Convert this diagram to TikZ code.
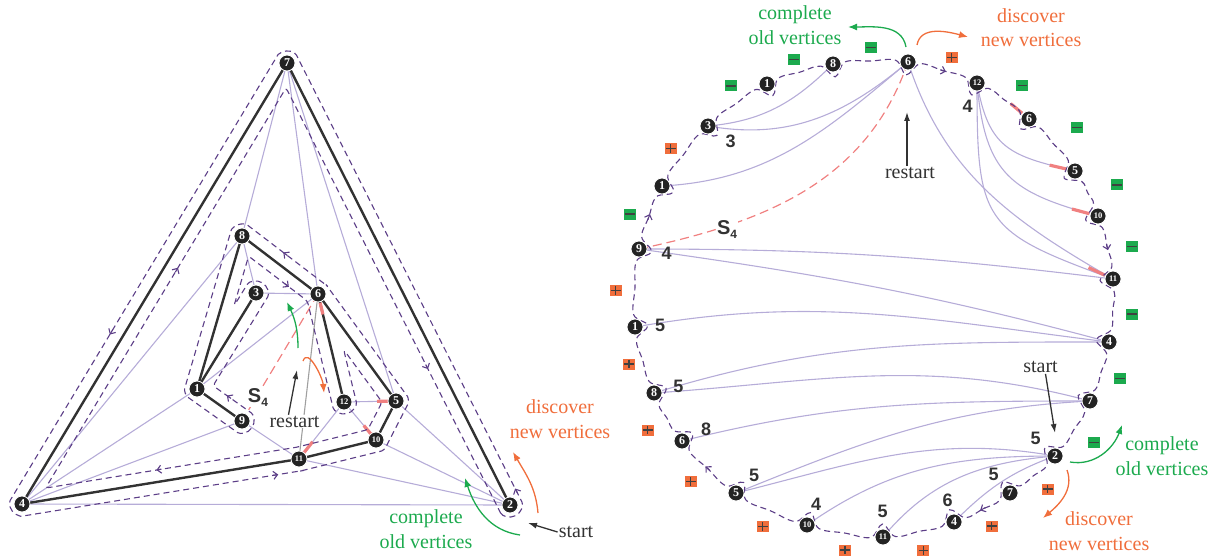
\documentclass[tikz,border=0pt]{standalone}
\usepackage{fontspec}
\setmainfont{Liberation Serif}
\setsansfont{Liberation Sans}
\usetikzlibrary{calc,arrows.meta}
\definecolor{edgec}{RGB}{182,172,216}
\definecolor{contc}{RGB}{92,62,135}
\definecolor{treec}{RGB}{50,50,50}
\definecolor{greenc}{RGB}{28,170,78}
\definecolor{orangec}{RGB}{240,110,60}
\definecolor{redc}{RGB}{240,128,128}
\definecolor{vfill}{RGB}{35,35,35}
\begin{document}
\begin{tikzpicture}[x=1pt,y=1pt,
  ledge/.style={draw=edgec, line width=1.1pt},
  gedge/.style={draw=gray!75, line width=1.1pt},
  tedge/.style={draw=treec, line width=2.4pt},
  rdash/.style={draw=redc, line width=1.2pt, dash pattern=on 9pt off 5pt},
  rseg/.style={draw=redc, line width=3.2pt},
  contour/.style={draw=contc, line width=1.1pt, dash pattern=on 6pt off 4pt},
  carrow/.style={draw=contc, line width=1.1pt, -{Straight Barb[length=4pt,width=8pt]}},
  garrow/.style={draw=greenc, line width=1.3pt, -{Latex[length=9pt,width=7pt]}},
  oarrow/.style={draw=orangec, line width=1.3pt, -{Latex[length=9pt,width=7pt]}},
  barrow/.style={draw=treec, line width=1.3pt, -{Latex[length=9pt,width=6pt]}},
  vtx/.style={circle, fill=vfill, draw=white, line width=0.8pt, minimum size=16pt, inner sep=0pt, text=white, font=\bfseries\fontsize{12}{12}\selectfont},
  vtxs/.style={vtx, font=\bfseries\fontsize{8.5}{8.5}\selectfont},
  ann/.style={font=\fontsize{20}{24.5}\selectfont, align=center, inner sep=1pt},
  dlab/.style={font=\sffamily\bfseries\fontsize{18}{18}\selectfont, text=treec, inner sep=0pt},
  slab/.style={font=\sffamily\bfseries\fontsize{20}{20}\selectfont, text=treec, inner sep=1pt},
  sq/.style={rectangle, minimum width=12pt, minimum height=11pt, inner sep=0pt},
  msq/.style={sq, fill=greenc, path picture={\draw[line width=1.3pt, black!75] ([xshift=1.2pt]path picture bounding box.west) -- ([xshift=-1.2pt]path picture bounding box.east);}},
  psq/.style={sq, fill=orangec, path picture={\draw[line width=1.3pt, black!75] ([xshift=1.2pt]path picture bounding box.west) -- ([xshift=-1.2pt]path picture bounding box.east); \draw[line width=1.3pt, black!75] ([yshift=-1.2pt]path picture bounding box.north) -- ([yshift=1.2pt]path picture bounding box.south);}}
]
\useasboundingbox (0,0) rectangle (1217,-556);

% ---------------- left graph: vertex positions
\coordinate (L7) at (287,-63);
\coordinate (L4) at (22,-504);
\coordinate (L2) at (510,-505);
\coordinate (L8) at (242,-236);
\coordinate (L3) at (256,-293);
\coordinate (L6) at (318,-294);
\coordinate (L1) at (197,-389);
\coordinate (L9) at (242,-421);
\coordinate (L12) at (344,-402);
\coordinate (L5) at (396,-401);
\coordinate (L10) at (376,-440);
\coordinate (L11) at (299,-459);

% light edges
\foreach \a/\b in {L7/L8, L7/L6, L7/L5, L4/L8, L4/L1, L4/L9, L4/L2, L3/L8, L3/L6, L1/L6, L9/L11, L12/L11, L12/L5, L12/L10, L5/L2, L10/L2, L11/L2}
  \draw[ledge] (\a) -- (\b);
\draw[gedge] (L6) -- (L11);
% tree edges
\foreach \a/\b in {L7/L4, L7/L2, L4/L11, L11/L10, L10/L5, L5/L6, L6/L12, L6/L8, L8/L1, L1/L3, L1/L9}
  \draw[tedge] (\a) -- (\b);
% red
\draw[rdash] (L6) -- (L9);
\draw[rseg] ($(L6)!9pt!(L12)$) -- ($(L6)!21pt!(L12)$);
\draw[rseg] ($(L5)!8pt!(L12)$) -- ($(L5)!19pt!(L12)$);
\draw[rseg] ($(L10)!8pt!(L12)$) -- ($(L10)!19pt!(L12)$);
\draw[rseg] ($(L11)!8pt!(L12)$) -- ($(L11)!22pt!(L12)$);

% contour of the tree
\draw[contour, rounded corners=3pt]
 ($(L2)+(206.8:12)$) arc[start angle=206.8, end angle=386.8, radius=12]
 -- ($(L7)+(26.8:12)$) arc[start angle=26.8, end angle=149, radius=12]
 -- ($(L4)+(149:12)$) arc[start angle=149, end angle=279.2, radius=12]
 -- ($(L11)+(279.2:12)$) arc[start angle=279.2, end angle=283.9, radius=12]
 -- ($(L10)+(283.9:12)$) arc[start angle=283.9, end angle=332.9, radius=12]
 -- ($(L5)+(332.9:12)$) arc[start angle=332.9, end angle=396.1, radius=12]
 -- ($(L6)+(36.1:12)$) arc[start angle=36.1, end angle=52.6, radius=12]
 -- ($(L8)+(52.6:12)$) arc[start angle=52.6, end angle=163.6, radius=12]
 -- ($(L1)+(163.6:12)$) arc[start angle=163.6, end angle=234.6, radius=12]
 -- ($(L9)+(234.6:12)$) arc[start angle=234.6, end angle=414.6, radius=12]
 -- ($(L1)+(11.5:16.4)$)
 -- ($(L3)+(328.4:12)$) arc[start angle=328.4, end angle=508.4, radius=12]
 -- ($(L1)+(66:90.7)$)
 -- ($(L8)+(288.1:21.2)$)
 -- ($(L6)+(213.05:12.7)$)
 -- ($(L12)+(193.5:12)$) arc[start angle=193.5, end angle=373.5, radius=12]
 -- ($(L6)+(294.8:61.2)$)
 -- ($(L5)+(184.5:14)$)
 -- ($(L10)+(128.4:13.2)$)
 -- ($(L11)+(101.55:12)$)
 -- ($(L4)+(34.1:28.4)$)
 -- ($(L7)+(267.9:24.8)$)
 -- cycle;
% direction marks on the contour
\coordinate (la1) at ($(L7)!0.62!(L4)+(149:12)$);
\coordinate (la2) at ($(L4)!0.54!(L7)+(329:12)$);
\coordinate (la3) at ($(L7)!0.67!(L2)+(206.8:12)$);
\coordinate (la4) at ($(L2)!0.015!(L7)+(26.8:12)$);
\coordinate (la5) at ($(L4)!0.9!(L11)+(279.2:12)$);
\coordinate (la6) at ($(L11)!0.49!(L4)+(99.2:12)$);
\coordinate (la7) at ($(L6)!0.5!(L8)+(52.6:12)$);
\coordinate (la8) at ($(L8)!0.66!(L6)+(232.6:12)$);
\coordinate (la9) at ($(L9)!0.4!(L1)+(54.6:12)$);
\draw[carrow] (la1) -- ++(239:5);
\draw[carrow] (la2) -- ++(59:5);
\draw[carrow] (la3) -- ++(296.8:5);
\draw[carrow] (la4) -- ++(116.8:5);
\draw[carrow] (la5) -- ++(9.2:5);
\draw[carrow] (la6) -- ++(189.2:5);
\draw[carrow] (la7) -- ++(142.6:5);
\draw[carrow] (la8) -- ++(322.6:5);
\draw[carrow] (la9) -- ++(144.6:5);

% vertices
\foreach \c/\t in {L7/7, L4/4, L2/2, L8/8, L3/3, L6/6, L1/1, L9/9, L5/5}
  \node[vtx] (n\c) at (\c) {\t};
\foreach \c/\t in {L12/12, L10/10, L11/11}
  \node[vtxs] (n\c) at (\c) {\t};

% labels and arrows left
\node[slab, fill=white, inner sep=0.5pt] (S4L) at (258,-398) {S\raisebox{-4pt}{\fontsize{12}{12}\selectfont 4}};
\node[ann, text=treec, fill=white] (restartL) at (294.5,-421.7) {restart};
\coordinate (rLtip) at (297,-370);
\draw[barrow] ([xshift=-6pt]restartL.north) -- (rLtip);
\coordinate (gA1) at (298,-348); \coordinate (gA2) at (287,-302);
\draw[garrow] (gA1) to[out=90, in=-65] (gA2);
\coordinate (oA1) at (303,-361); \coordinate (oA2) at (324,-393);
\draw[oarrow] (oA1) to[out=70, in=95] (oA2);
\node[ann, text=orangec] (discL) at (560,-419) {discover\\new vertices};
\node[ann, text=greenc] (complL) at (426,-529) {complete\\old vertices};
\node[ann, text=treec] (startL) at (576,-532) {start};
\coordinate (sLtip) at (528,-523);
\draw[barrow] (startL.west) -- (sLtip);
\coordinate (gB1) at (520,-535); \coordinate (gB2) at (465,-478);
\draw[garrow] (gB1) to[out=172, in=-72] (gB2);
\coordinate (oB1) at (538,-513); \coordinate (oB2) at (513,-452);
\draw[oarrow] (oB1) to[out=95, in=-60] (oB2);

% ---------------- right graph
\coordinate (C) at (874,-300);
\coordinate (R6t) at (908,-62);
\coordinate (R12) at (977,-83);
\coordinate (R6r) at (1029,-119);
\coordinate (R5) at (1075,-171);
\coordinate (R10) at (1098,-216);
\coordinate (R11) at (1113,-279);
\coordinate (R4) at (1109,-342);
\coordinate (R7) at (1090,-401);
\coordinate (R2) at (1055,-456);
\coordinate (R7l) at (1010,-493);
\coordinate (R4l) at (954,-522);
\coordinate (R11l) at (883,-537);
\coordinate (R10l) at (807,-525);
\coordinate (R5l) at (736,-493);
\coordinate (R6l) at (682,-441);
\coordinate (R8) at (654,-393);
\coordinate (R1) at (635,-327);
\coordinate (R9) at (639,-249);
\coordinate (R1l) at (662,-186);
\coordinate (R3) at (708,-126);
\coordinate (R1t) at (767,-84);
\coordinate (R8t) at (833,-64);

% light edges
\draw[ledge] (R3) to[out=5,in=225] (R8t);
\draw[ledge] (R3) to[out=-10,in=220] (R6t);
\draw[ledge] (R1l) to[out=3,in=220] (R6t);
\draw[ledge] (R6t) to[out=-72,in=150] (R11);
\draw[ledge] (R12) to[out=-80,in=167,looseness=1.3] (R5);
\draw[ledge] (R12) to[out=-85,in=165,looseness=1.3] (R10);
\draw[ledge] (R12) to[out=-90,in=160,looseness=1.5] (R11);
\draw[ledge] (R9) to[out=0,in=173] (R11);
\draw[ledge] (R9) to[out=-8,in=165] (R4);
\draw[ledge] (R1) to[out=10,in=173] (R4);
\draw[ledge] (R8) to[out=17,in=180] (R4);
\draw[ledge] (R8) to[out=4,in=165] (R7);
\draw[ledge] (R6l) to[out=14,in=180] (R7);
\draw[ledge] (R5l) to[out=22,in=183] (R7);
\draw[ledge] (R5l) to[out=14,in=170] (R2);
\draw[ledge] (R10l) to[out=35,in=180] (R2);
\draw[ledge] (R11l) to[out=50,in=185] (R2);
\draw[ledge] (R4l) to[out=45,in=200] (R2);
\draw[rdash] (R6t) to[out=-109,in=12] (R9);
\draw[rseg] ($(R6r)+(140:9)$) -- ($(R6r)+(140:24)$);
\draw[rseg] ($(R5)+(167:9)$) -- ($(R5)+(167:26)$);
\draw[rseg] ($(R10)+(165:9)$) -- ($(R10)+(165:27)$);
\draw[rseg] ($(R11)+(155:9)$) -- ($(R11)+(155:27)$);

% contour around the ring
\foreach \v in {R6t,R12,R6r,R5,R10,R11,R4,R7,R2,R7l,R4l,R11l,R10l,R5l,R6l,R8,R1,R9,R1l,R3,R1t,R8t} {
  \coordinate (\v-a) at ($(\v)!12.5pt!-90:(C)$);
  \coordinate (\v-m) at ($(\v)!13pt!(C)$);
  \coordinate (\v-b) at ($(\v)!12.5pt!90:(C)$);
}
\foreach \v/\w in {R6t/R12,R12/R6r,R6r/R5,R5/R10,R10/R11,R11/R4,R4/R7,R7/R2,R2/R7l,R7l/R4l,R4l/R11l,R11l/R10l,R10l/R5l,R5l/R6l,R6l/R8,R8/R1,R1/R9,R9/R1l,R1l/R3,R3/R1t,R1t/R8t,R8t/R6t}
  \coordinate (\v-n) at ($(\v-b)!0.5!(\w-a)$);
\draw[contour] plot[smooth cycle, tension=0.6] coordinates {
 (R6t-a)(R6t-m)(R6t-b)(R6t-n) (R12-a)(R12-m)(R12-b)(R12-n) (R6r-a)(R6r-m)(R6r-b)(R6r-n)
 (R5-a)(R5-m)(R5-b)(R5-n) (R10-a)(R10-m)(R10-b)(R10-n) (R11-a)(R11-m)(R11-b)(R11-n)
 (R4-a)(R4-m)(R4-b)(R4-n) (R7-a)(R7-m)(R7-b)(R7-n) (R2-a)(R2-m)(R2-b)(R2-n)
 (R7l-a)(R7l-m)(R7l-b)(R7l-n) (R4l-a)(R4l-m)(R4l-b)(R4l-n) (R11l-a)(R11l-m)(R11l-b)(R11l-n)
 (R10l-a)(R10l-m)(R10l-b)(R10l-n) (R5l-a)(R5l-m)(R5l-b)(R5l-n) (R6l-a)(R6l-m)(R6l-b)(R6l-n)
 (R8-a)(R8-m)(R8-b)(R8-n) (R1-a)(R1-m)(R1-b)(R1-n) (R9-a)(R9-m)(R9-b)(R9-n)
 (R1l-a)(R1l-m)(R1l-b)(R1l-n) (R3-a)(R3-m)(R3-b)(R3-n) (R1t-a)(R1t-m)(R1t-b)(R1t-n)
 (R8t-a)(R8t-m)(R8t-b)(R8t-n)};
\foreach \v/\w in {R6t/R12, R10/R11, R7l/R4l, R5l/R6l, R9/R1l}
  \draw[carrow] ($(\v-n)!3pt!(\v-b)$) -- ($(\v-n)!3pt!(\w-a)$);

% vertices
\foreach \c/\t in {R6t/6, R6r/6, R5/5, R4/4, R7/7, R2/2, R7l/7, R4l/4, R5l/5, R6l/6, R8/8, R1/1, R9/9, R1l/1, R3/3, R1t/1, R8t/8}
  \node[vtx] (n\c) at (\c) {\t};
\foreach \c/\t in {R12/12, R10/10, R11/11, R11l/11, R10l/10}
  \node[vtxs] (n\c) at (\c) {\t};

% bold number labels
\foreach \x/\y/\t [count=\i] in {730.7/-141.7/3, 967.7/-106.7/4, 666.7/-253.3/4, 660/-325/5, 678.3/-386.7/5, 706/-429.5/8, 754/-475/5, 816/-504.5/4, 882.7/-511.7/5, 947.5/-500.5/6, 993.5/-474/5, 1035.5/-438.5/5}
  \node[dlab] (d\i) at (\x,\y) {\t};

% signs
\foreach \x/\y [count=\i] in {730.7/-86, 794/-59.3, 870.7/-47.3, 1022.3/-85.7, 1076.7/-127.7, 1116.7/-185, 1131.7/-246.7, 1131.7/-314, 1120/-378.3, 1094/-442.3, 630/-214}
  \node[msq] (m\i) at (\x,\y) {};
\foreach \x/\y [count=\i] in {951.7/-57.3, 670.7/-148.3, 615.7/-290.7, 629/-364, 647.7/-430, 690.7/-481.7, 762.7/-526.7, 845/-550, 923.3/-550.5, 991.7/-526, 1047.7/-489}
  \node[psq] (p\i) at (\x,\y) {};

% texts and arrows right
\node[slab, fill=white, inner sep=0.5pt] (S4R) at (727,-230) {S\raisebox{-4pt}{\fontsize{12}{12}\selectfont 4}};
\node[ann, text=greenc] (complR1) at (795,-25) {complete\\old vertices};
\node[ann, text=orangec] (discR1) at (1031,-27.5) {discover\\new vertices};
\node[ann, text=treec] (restartR) at (910,-173) {restart};
\coordinate (rRtip) at (907,-112);
\draw[barrow] ([xshift=-3pt]restartR.north) -- (rRtip);
\node[ann, text=treec] (startR) at (1040.5,-367) {start};
\coordinate (sRtip) at (1055,-433);
\draw[barrow] ([xshift=5pt]startR.south) -- (sRtip);
\node[ann, text=greenc] (complR2) at (1162,-456) {complete\\old vertices};
\node[ann, text=orangec] (discR2) at (1099,-531) {discover\\new vertices};
\coordinate (gC1) at (906,-47); \coordinate (gC2) at (848,-27);
\draw[garrow] (gC1) to[out=100, in=0] (gC2);
\coordinate (oC1) at (917,-45); \coordinate (oC2) at (968,-37);
\draw[oarrow] (oC1) to[out=80, in=165] (oC2);
\coordinate (gD1) at (1070,-462); \coordinate (gD2) at (1122,-425);
\draw[garrow] (gD1) to[out=-10, in=250] (gD2);
\coordinate (oD1) at (1067,-470); \coordinate (oD2) at (1043,-518);
\draw[oarrow] (oD1) to[out=-70, in=40] (oD2);
\end{tikzpicture}
\end{document}
